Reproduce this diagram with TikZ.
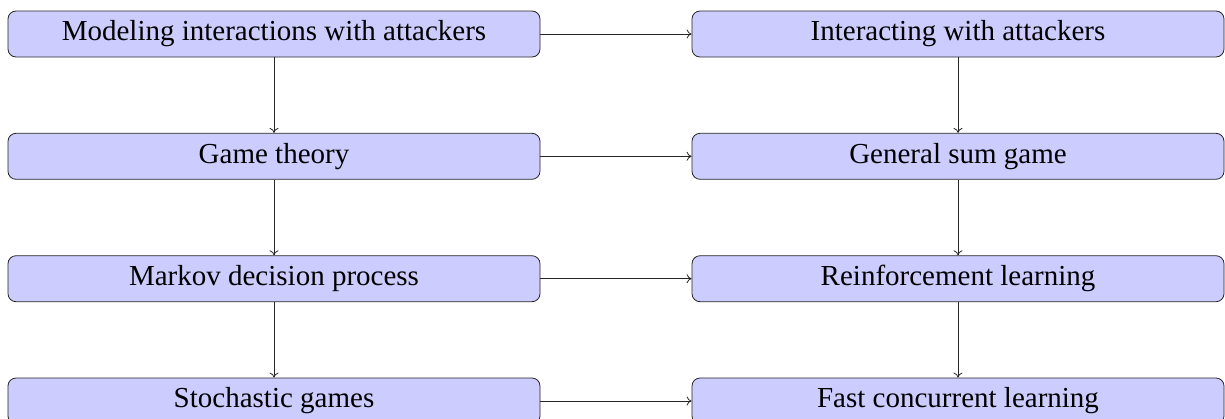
\documentclass[tikz,border=0pt]{standalone}
\usepackage{fontspec}
\setmainfont{Liberation Serif}
\usetikzlibrary{arrows.meta}
\begin{document}
\begin{tikzpicture}[x=1pt,y=-1pt,
  box/.style={draw=black!85,line width=0.8pt,fill=blue!20,rounded corners=8pt,
    minimum width=532pt,minimum height=46pt,inner sep=0pt,
    font=\fontsize{29}{34}\selectfont},
  conn/.style={draw=black!85,line width=0.8pt,-{To[length=5pt,width=9pt]}}]
\useasboundingbox (0,0) rectangle (1225,418);
\clip (0,0) rectangle (1225,418);
\node[box] (a1) at (274,34) {Modeling interactions with attackers};
\node[box] (a2) at (274,156.3) {Game theory};
\node[box] (a3) at (274,278.7) {Markov decision process};
\node[box] (a4) at (274,401) {Stochastic games};
\node[box] (b1) at (958,34) {Interacting with attackers};
\node[box] (b2) at (958,156.3) {General sum game};
\node[box] (b3) at (958,278.7) {Reinforcement learning};
\node[box] (b4) at (958,401) {Fast concurrent learning};
\draw[conn] (a1) -- (a2);
\draw[conn] (a2) -- (a3);
\draw[conn] (a3) -- (a4);
\draw[conn] (b1) -- (b2);
\draw[conn] (b2) -- (b3);
\draw[conn] (b3) -- (b4);
\draw[conn] (a1) -- (b1);
\draw[conn] (a2) -- (b2);
\draw[conn] (a3) -- (b3);
\draw[conn] (a4) -- (b4);
\end{tikzpicture}
\end{document}
